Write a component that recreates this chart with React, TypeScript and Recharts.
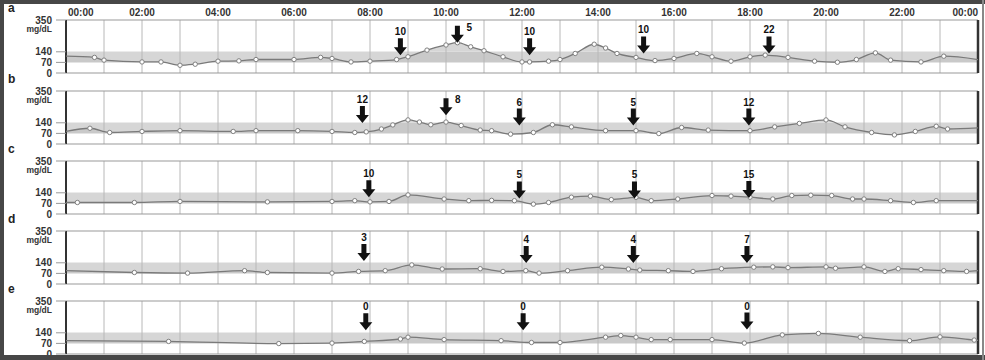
import { ComposedChart, Line, Area, XAxis, YAxis, ReferenceLine, ReferenceDot } from "recharts";

// ---- axis / labels ----
const HOUR_LINES = [1, 2, 3, 4, 5, 6, 7, 8, 9, 10, 11, 12, 13, 14, 15, 16, 17, 18, 19, 20, 21, 22, 23];
const TIME_TICKS = [0, 2, 4, 6, 8, 10, 12, 14, 16, 18, 20, 22, 24];
const TIME_LABELS = ["00:00", "02:00", "04:00", "06:00", "08:00", "10:00", "12:00", "14:00", "16:00", "18:00", "20:00", "22:00", "00:00"];
const Y_TICKS = [0, 70, 140, 350];
const TARGET_RANGE = [70, 140];
const PANEL_NAMES = ["a", "b", "c", "d", "e"];

// ---- glucose traces (hour of day, mg/dL) ----
const aHours = [0, 0.75, 1.0, 2.0, 2.5, 3.0, 3.4, 4.0, 4.55, 5.0, 6.0, 6.7, 7.0, 7.5, 8.0, 8.7, 9.0, 9.5, 10.0, 10.3, 10.65, 11.0, 11.5, 12.0, 12.2, 12.7, 13.0, 13.4, 13.9, 14.2, 14.5, 15.0, 15.5, 16.0, 16.6, 17.0, 17.5, 18.0, 18.4, 19.0, 19.7, 20.3, 20.8, 21.3, 21.7, 22.5, 23.1, 24];
const aGlucose = [111, 103, 85, 73, 73, 51, 58, 78, 80, 89, 89, 103, 96, 73, 78, 89, 107, 151, 185, 200, 173, 147, 107, 73, 73, 78, 89, 129, 190, 165, 129, 103, 82, 96, 129, 107, 78, 107, 118, 103, 78, 71, 89, 133, 85, 73, 111, 89];

const bHours = [0, 0.63, 1.15, 2, 3, 4.4, 5, 6.1, 7, 7.6, 7.9, 8.3, 8.6, 9.0, 9.3, 9.6, 10, 10.4, 10.9, 11.2, 11.7, 12.3, 12.8, 13.3, 14.2, 15, 15.6, 16.2, 16.9, 18, 18.65, 19.3, 20, 20.5, 21.2, 21.8, 22.35, 22.9, 23.2, 24];
const bGlucose = [83, 104, 76, 83, 88, 83, 88, 88, 83, 76, 80, 99, 126, 159, 145, 127, 145, 122, 92, 88, 65, 76, 127, 113, 88, 88, 69, 109, 92, 88, 113, 136, 159, 113, 76, 60, 83, 117, 99, 106];

const cHours = [0, 0.3, 1.8, 3, 5.3, 7, 7.6, 8, 8.5, 9, 9.95, 10.6, 11.2, 11.8, 12.3, 12.7, 13.3, 13.8, 14.35, 15, 15.4, 16.1, 17, 17.5, 18, 18.6, 19.1, 19.6, 20.15, 20.7, 21, 21.7, 22.3, 22.9, 24];
const cGlucose = [76, 76, 76, 83, 80, 83, 88, 80, 83, 126, 99, 88, 90, 88, 65, 76, 111, 118, 95, 110, 88, 99, 122, 118, 111, 99, 122, 124, 122, 99, 99, 88, 76, 88, 88];

const dHours = [0, 1.8, 3.2, 4.7, 5.3, 7, 7.7, 8.4, 9.1, 9.9, 10.9, 11.5, 12.1, 12.45, 13.2, 14.1, 14.8, 15.1, 15.85, 16.5, 17.25, 18.1, 18.6, 19, 20, 20.25, 21, 21.55, 21.9, 22.5, 23.1, 23.7, 24];
const dGlucose = [88, 76, 72, 88, 76, 72, 83, 88, 126, 99, 101, 83, 88, 72, 88, 111, 99, 92, 88, 83, 101, 111, 113, 108, 113, 104, 113, 83, 101, 95, 88, 83, 88];

const eHours = [0, 2.7, 5.6, 7, 7.85, 8.8, 9, 9.95, 11.45, 12.25, 13, 14.2, 14.6, 15, 15.4, 15.9, 17, 17.85, 18.85, 19.8, 20.9, 22.2, 23, 23.9, 24];
const eGlucose = [88, 83, 69, 72, 83, 99, 111, 95, 88, 76, 76, 111, 122, 111, 95, 95, 95, 72, 126, 136, 111, 88, 113, 92, 90];

// ---- insulin arrows (hour, tip at mg/dL, label) ----
const aArrowHours = [8.8, 10.3, 12.2, 15.2, 18.5];
const aArrowTips = [118, 200, 118, 129, 129];
const aArrowLabels = ["10", "5", "10", "10", "22"];

const bArrowHours = [7.8, 10.0, 11.93, 14.93, 17.97];
const bArrowTips = [138, 190, 122, 122, 122];
const bArrowLabels = ["12", "8", "6", "5", "12"];

const cArrowHours = [7.97, 11.93, 14.96, 17.97];
const cArrowTips = [110, 103, 103, 106];
const cArrowLabels = ["10", "5", "5", "15"];

const dArrowHours = [7.84, 12.11, 14.93, 17.92];
const dArrowTips = [152, 138, 138, 138];
const dArrowLabels = ["3", "4", "4", "7"];

const eArrowHours = [7.89, 12.03, 17.92];
const eArrowTips = [157, 157, 161];
const eArrowLabels = ["0", "0", "0"];

const PANEL_TOPS = [0, 71, 141, 211, 281];
const FONT = "'Liberation Sans', Arial, sans-serif";

function buildRows(hours: number[], glucose: number[]) {
  return hours.map((h, i) => ({ h, v: glucose[i] }));
}

const panels = [
  { rows: buildRows(aHours, aGlucose), ah: aArrowHours, at: aArrowTips, al: aArrowLabels },
  { rows: buildRows(bHours, bGlucose), ah: bArrowHours, at: bArrowTips, al: bArrowLabels },
  { rows: buildRows(cHours, cGlucose), ah: cArrowHours, at: cArrowTips, al: cArrowLabels },
  { rows: buildRows(dHours, dGlucose), ah: dArrowHours, at: dArrowTips, al: dArrowLabels },
  { rows: buildRows(eHours, eGlucose), ah: eArrowHours, at: eArrowTips, al: eArrowLabels },
];

function arrowShape(label: string, tip: number) {
  return (props: any) => {
    const { cx, cy } = props;
    const len = 17;
    const shaft = 5;
    const head = 13;
    const headL = 8;
    const top = cy - len;
    const pts = [
      [cx - shaft / 2, top],
      [cx + shaft / 2, top],
      [cx + shaft / 2, cy - headL],
      [cx + head / 2, cy - headL],
      [cx, cy],
      [cx - head / 2, cy - headL],
      [cx - shaft / 2, cy - headL],
    ]
      .map((p) => p.join(","))
      .join(" ");
    const beside = tip > 180;
    return (
      <g>
        <polygon points={pts} fill="#111" />
        <text
          x={beside ? cx + 9 : cx}
          y={beside ? top + 5 : top - 3}
          textAnchor={beside ? "start" : "middle"}
          fontSize={10}
          fontWeight="bold"
          fontFamily={FONT}
          fill="#111"
        >
          {label}
        </text>
      </g>
    );
  };
}

function YTick(props: any) {
  const { x, y, payload } = props;
  return (
    <g>
      <text x={x} y={y + 3.5} textAnchor="end" fontSize={10} fontWeight="bold" fontFamily={FONT} fill="#333">
        {payload.value}
      </text>
      {payload.value === 350 && (
        <text x={x} y={y + 12} textAnchor="end" fontSize={8.5} fontWeight="bold" fontFamily={FONT} fill="#333">
          mg/dL
        </text>
      )}
    </g>
  );
}

function TimeTick(props: any) {
  const { x, payload } = props;
  const idx = TIME_TICKS.indexOf(payload.value);
  const anchor = idx === 0 ? "start" : idx === TIME_TICKS.length - 1 ? "end" : "middle";
  return (
    <text x={idx === 0 ? x + 2 : x} y={16} textAnchor={anchor} fontSize={10} fontWeight="bold" fontFamily={FONT} fill="#333">
      {TIME_LABELS[idx]}
    </text>
  );
}

function Panel({ index }: { index: number }) {
  const p = panels[index];
  const last = p.rows.length - 1;
  const showTime = index === 0;
  return (
    <ComposedChart width={985} height={82} data={p.rows} margin={{ top: 2, right: 7, bottom: 9, left: 0 }}>
      <XAxis
        type="number"
        dataKey="h"
        domain={[0, 24]}
        ticks={TIME_TICKS}
        interval={0}
        orientation="top"
        height={18}
        axisLine={false}
        tickLine={false}
        tick={showTime ? <TimeTick /> : false}
      />
      <YAxis
        type="number"
        domain={[0, 350]}
        ticks={Y_TICKS}
        interval={0}
        width={66}
        axisLine={false}
        tickLine={{ stroke: "#999" }}
        tickSize={10}
        tickMargin={4}
        tick={<YTick />}
      />
      {HOUR_LINES.map((h) => (
        <ReferenceLine key={h} x={h} stroke="#b8b8b8" strokeWidth={1} />
      ))}
      <Area
        type="linear"
        dataKey={() => TARGET_RANGE}
        stroke="none"
        fill="#c9c9c9"
        fillOpacity={1}
        dot={false}
        activeDot={false}
        isAnimationActive={false}
      />
      <Area
        type="monotone"
        dataKey="v"
        baseValue={140}
        stroke="none"
        fill="#d6d6d6"
        fillOpacity={1}
        dot={false}
        activeDot={false}
        isAnimationActive={false}
      />
      <ReferenceLine y={350} stroke="#999" strokeWidth={1} />
      <ReferenceLine y={0} stroke="#999" strokeWidth={1} />
      <ReferenceLine x={0} stroke="#333" strokeWidth={2} />
      <ReferenceLine x={24} stroke="#333" strokeWidth={2.5} />
      <Line
        type="monotone"
        dataKey="v"
        stroke="#7a7a7a"
        strokeWidth={1.3}
        dot={(d: any) =>
          d.index === 0 || d.index === last ? (
            <g key={d.index} />
          ) : (
            <circle key={d.index} cx={d.cx} cy={d.cy} r={2.2} fill="#fff" stroke="#808080" strokeWidth={1} />
          )
        }
        activeDot={false}
        isAnimationActive={false}
      />
      {p.ah.map((h, i) => (
        <ReferenceDot key={i} x={h} y={p.at[i]} r={0} ifOverflow="visible" shape={arrowShape(p.al[i], p.at[i])} />
      ))}
    </ComposedChart>
  );
}

export default function App() {
  return (
    <div
      style={{
        position: "relative",
        width: 985,
        height: 360,
        background: "#fff",
        boxSizing: "border-box",
        overflow: "hidden",
        fontFamily: FONT,
      }}
    >
      <style>{"body{margin:0}"}</style>
      {PANEL_TOPS.map((top, i) => (
        <div key={i} style={{ position: "absolute", left: 0, top, width: 985, height: 82 }}>
          <Panel index={i} />
        </div>
      ))}
      {PANEL_TOPS.map((top, i) => (
        <div
          key={"l" + i}
          style={{
            position: "absolute",
            left: 8,
            top: top + 2,
            fontSize: 12,
            fontWeight: "bold",
            color: "#222",
            lineHeight: "12px",
          }}
        >
          {PANEL_NAMES[i]}
        </div>
      ))}
      <div style={{ position: "absolute", left: 0, top: 0, width: 985, height: 4, background: "#474747" }} />
      <div style={{ position: "absolute", left: 0, top: 0, width: 4, height: 360, background: "#474747" }} />
      <div style={{ position: "absolute", left: 0, top: 355, width: 985, height: 5, background: "#474747" }} />
      <div style={{ position: "absolute", left: 982, top: 0, width: 2, height: 360, background: "#888" }} />
    </div>
  );
}
